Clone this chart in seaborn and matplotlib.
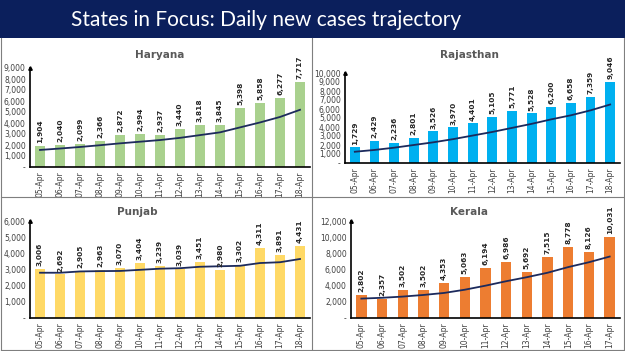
import numpy as np
import seaborn as sns
import matplotlib.pyplot as plt
from matplotlib.patches import Rectangle
from matplotlib.lines import Line2D
from matplotlib.ticker import FuncFormatter

dates_14 = ["05-Apr", "06-Apr", "07-Apr", "08-Apr", "09-Apr", "10-Apr", "11-Apr",
            "12-Apr", "13-Apr", "14-Apr", "15-Apr", "16-Apr", "17-Apr", "18-Apr"]
dates_13 = dates_14[:13]

haryana = [1904, 2040, 2099, 2366, 2872, 2994, 2937, 3440, 3818, 3845, 5398, 5858, 6277, 7717]
haryana_trend = [1550, 1680, 1820, 1980, 2150, 2300, 2450, 2650, 2900, 3150, 3600, 4050, 4550, 5200]

rajasthan = [1729, 2429, 2236, 2801, 3526, 3970, 4401, 5105, 5771, 5528, 6200, 6658, 7359, 9046]
rajasthan_trend = [1250, 1450, 1700, 2000, 2300, 2650, 3050, 3450, 3900, 4350, 4850, 5300, 5850, 6500]

punjab = [3006, 2692, 2905, 2963, 3070, 3404, 3239, 3039, 3451, 2980, 3302, 4311, 3891, 4431]
punjab_trend = [2800, 2800, 2880, 2900, 2910, 2980, 3050, 3080, 3170, 3200, 3230, 3400, 3450, 3650]

kerala = [2802, 2357, 3502, 3502, 4353, 5063, 6194, 6986, 5692, 7515, 8778, 8126, 10031]
kerala_trend = [2400, 2500, 2650, 2850, 3100, 3500, 4000, 4550, 5050, 5600, 6300, 6900, 7600]

W, H = 625, 351
fig = plt.figure(figsize=(W / 100, H / 100), dpi=100)
fig.patch.set_facecolor("white")


def px_axes(left, top, right, bottom):
    return fig.add_axes([left / W, 1 - bottom / H, (right - left) / W, (bottom - top) / H])


# banner
fig.patches.append(Rectangle((0, 1 - 38 / H), 1, 38 / H, transform=fig.transFigure,
                             facecolor="#0b1f5c", edgecolor="none"))
fig.text(266 / W, 1 - 20 / H, "States in Focus: Daily new cases trajectory", color="white",
         fontsize=15, family="Lato", ha="center", va="center")

# panel borders
border = "#7f7f7f"
for (x0, y0, x1, y1) in [(312, 38, 312, 350), (1, 197, 624, 197), (1, 350, 624, 350),
                         (1, 38, 1, 350), (624, 38, 624, 350)]:
    fig.add_artist(Line2D([x0 / W, x1 / W], [1 - y0 / H, 1 - y1 / H], color=border, lw=0.8))

panels = [
    ("Haryana", dates_14, haryana, haryana_trend, "#a9d18e", (30, 68, 310, 167), 9000, 1000, (160, 55)),
    ("Rajasthan", dates_14, rajasthan, rajasthan_trend, "#00b0f0", (345, 73, 620, 163), 10000, 1000, (469, 55)),
    ("Punjab", dates_14, punjab, punjab_trend, "#ffd966", (30, 221, 310, 318), 6000, 1000, (137, 212)),
    ("Kerala", dates_13, kerala, kerala_trend, "#ed7d31", (351, 221, 620, 318), 12000, 2000, (469, 212)),
]

fmt = FuncFormatter(lambda v, p: "-" if v == 0 else f"{v:,.0f}")

for name, dates, vals, trend, color, rect, ymax, step, tpos in panels:
    ax = px_axes(*rect)
    n = len(dates)
    sns.barplot(x=dates, y=vals, color=color, width=0.5, saturation=1, ax=ax)
    sns.lineplot(x=np.arange(n), y=trend, color="#1c2a5c", lw=1.3, ax=ax)
    ax.set_xlim(-0.5, n - 0.5)
    ax.set_ylim(0, ymax)
    ax.set_yticks(np.arange(0, ymax + 1, step))
    ax.yaxis.set_major_formatter(fmt)
    ax.set_xlabel("")
    ax.set_ylabel("")
    ax.set_facecolor("none")
    for s in ["top", "right"]:
        ax.spines[s].set_visible(False)
    for s in ["left", "bottom"]:
        ax.spines[s].set_color("black")
        ax.spines[s].set_linewidth(1.2)
    ax.tick_params(length=0, labelsize=5.5, labelcolor="#404040", pad=3)
    ax.tick_params(axis="x", rotation=90, pad=3)
    ax.plot(0, 1.0, marker="^", color="black", markersize=2.5, transform=ax.transAxes, clip_on=False)
    for i, v in enumerate(vals):
        ax.text(i, v + ymax * 0.03, f"{v:,}", rotation=90, ha="center", va="bottom",
                fontsize=5.3, fontweight="bold", color="#262626")
    fig.text(tpos[0] / W, 1 - tpos[1] / H, name, ha="center", va="center",
             fontsize=7.5, fontweight="bold", color="#595959")

fig.savefig("out.png", dpi=100)
